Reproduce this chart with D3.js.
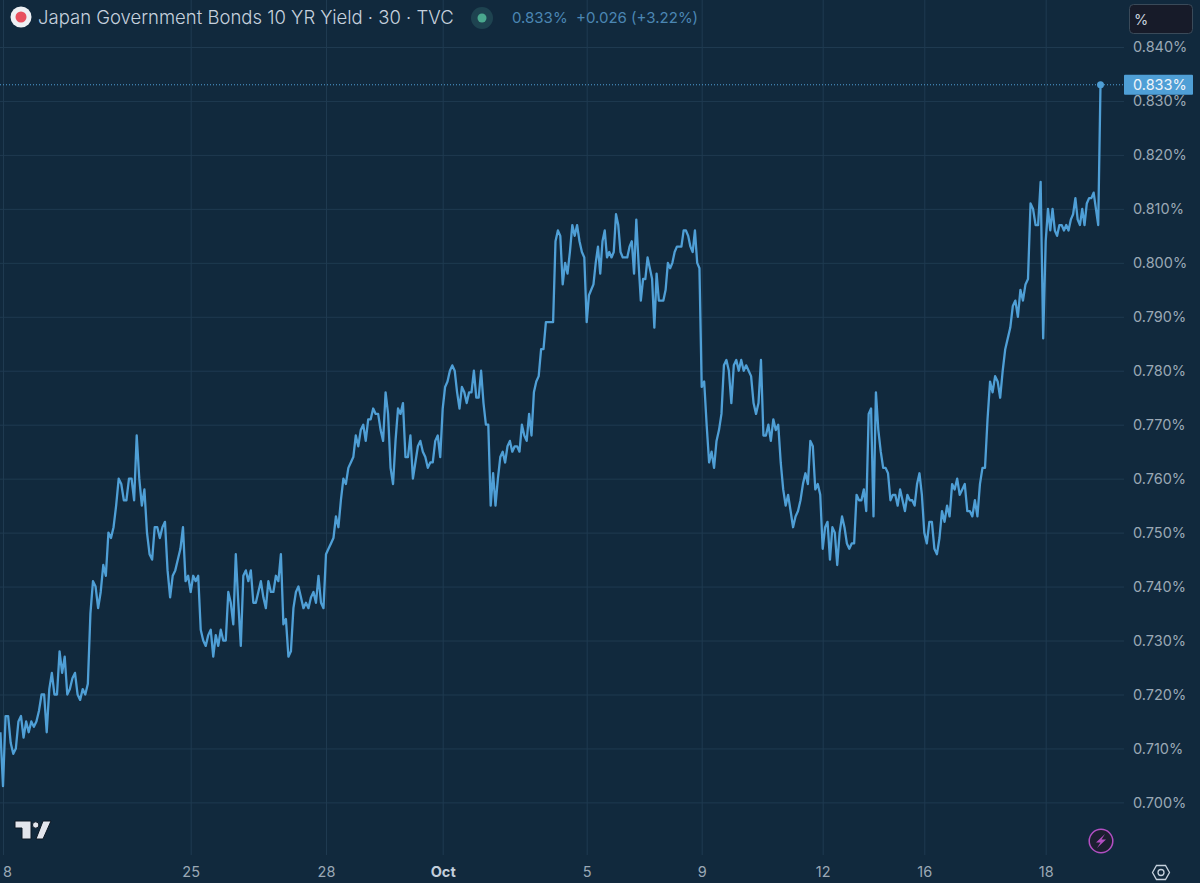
<!DOCTYPE html>
<head>
  <meta charset="utf-8">
  <title>Japan Government Bonds 10 YR Yield</title>
  <script src="https://d3js.org/d3.v7.min.js"></script>
  <style>
    body { margin: 0; background-color: #11293d; overflow: hidden; }
    svg { display: block; font-family: Inter, "Noto Sans", sans-serif; }

    .grid line { stroke: #1f3a50; stroke-width: 1; }
    .grid path { display: none; }
    .axis path, .axis line { display: none; }
    .axis text { fill: #9aa8b5; font-size: 14.5px; font-family: Inter, sans-serif; }
    .legend-title { fill: #c6d1dd; font-size: 18.5px; font-weight: 300; }
    .legend-values { fill: #4b86b3; font-size: 15px; }
  </style>
</head>

<body>
  <script>
    var width = 1200, height = 883;

    // 30 minute closes, in thousandths of a percent, one list per gap between date labels
    var sep18 = [713,703,716,716,711,709,710,715,716,712,715,713,715,714,715,717,720,720,713,721,724,720,720,728,724,727,720,721,723,724,720,719,721,720,722,735,741,740,736,739,744,742,750,749,751,755,760,759,756,756,760,760,756,768,760,755,758,750,746,745,751,751,749,751,752,743,738,742,743,745,747,751,741,742];
    var sep25 = [739,742,741,742,732,730,729,731,732,727,731,729,732,730,730,739,737,733,746,737,729,742,743,741,743,737,737,739,741,738,736,741,739,739,742,741,746,733,734,727,728,736,739,740,738,736,737,736,738,739,737,742,737,736];
    var sep28 = [746,747,748,749,753,751,756,760,759,762,763,764,768,766,769,770,767,771,771,773,772,772,769,767,776,772,762,759,767,773,772,774,764,764,768,760,763,766,767,765,764,762,763,763,767,768,764];
    var oct1 = [773,777,778,780,781,780,776,773,777,776,774,776,776,780,775,775,780,774,770,770,755,761,755,760,764,765,763,766,767,765,766,766,765,770,768,767,772,768,776,778,779,784,784,789,789,789,789,804,806,805,796,800,798,802,807,805,807,804,802,801];
    var oct5 = [789,794,795,796,800,803,798,804,806,801,802,801,802,809,807,802,801,801,801,803,804,798,808,800,793,797,797,801,799,797,788,798,793,793,793,795,800,799,800,802,803,803,803,806,806,805,803,802,806,800,799];
    var oct9 = [777,778,770,763,765,762,767,769,772,781,782,780,774,781,782,780,782,780,781,780,779,774,772,774,782,768,768,770,767,771,769,770,763,758,755,757,754,751,753,754,756,759,761,759,767,766,758,759,757];
    var oct12 = [747,751,752,745,751,750,744,750,753,751,748,747,748,748,757,756,756,758,754,772,773,753,776,769,765,762,762,761,756,757,757,755,758,756,754,757,756,756,755,759,761,757];
    var oct16 = [750,748,752,752,747,746,749,754,752,755,753,759,758,760,757,758,759,754,754,753,756,753,759,762,762,771,778,776,779,778,775,780,784,786,788,792,793,790,795,793,796,797,811,810,807,807,815,786];
    var oct18 = [804,810,806,810,806,805,807,807,806,807,806,808,809,812,808,807,810,807,811,812,812,813,810,807,833];

    var dateLabels = ["8", "25", "28", "Oct", "5", "9", "12", "16", "18"];
    var yieldTicks = [0.70, 0.71, 0.72, 0.73, 0.74, 0.75, 0.76, 0.77, 0.78, 0.79, 0.80, 0.81, 0.82, 0.83, 0.84];
    var lastYield = 0.833;

    var segments = [sep18, sep25, sep28, oct1, oct5, oct9, oct12, oct16, oct18];
    var yields = d3.merge(segments).map(d => d / 1000);

    // bar index of each date label; the 18 sits one bar in from the left edge
    var tickBars = [1];
    var running = sep18.length;
    segments.slice(1).forEach(s => { tickBars.push(running); running += s.length; });

    var chartRight = 1124;
    var gridX = [3, 190.7, 326, 442.7, 586.7, 701.7, 822.7, 924.3, 1045.7];

    // trading sessions are not evenly spread, so the scale is piecewise between date labels
    var x = d3.scaleLinear()
      .domain(tickBars.concat([yields.length - 1]))
      .range(gridX.concat([1100.5]));

    var y = d3.scaleLinear()
      .domain([0.70, 0.84])
      .range([802.4, 47]);

    var svg = d3.select("body").append("svg")
      .attr("width", width)
      .attr("height", height);

    svg.append("rect")
      .attr("width", width)
      .attr("height", height)
      .attr("fill", "#11293d");

    // Grid
    svg.append("g")
      .attr("class", "grid")
      .attr("transform", "translate(" + chartRight + ",0)")
      .call(d3.axisLeft(y).tickValues(yieldTicks).tickSize(chartRight).tickFormat(""));

    svg.append("g")
      .attr("class", "grid")
      .attr("transform", "translate(0,855)")
      .call(d3.axisTop(x).tickValues(tickBars).tickSize(855).tickFormat(""));

    // Axes
    var yAxis = svg.append("g")
      .attr("class", "axis")
      .attr("transform", "translate(" + chartRight + ",0)")
      .call(d3.axisRight(y).tickValues(yieldTicks).tickSize(0).tickPadding(9).tickFormat(d3.format(".3f")));
    yAxis.selectAll("text").text(d => d3.format(".3f")(d) + "%");

    var xAxis = svg.append("g")
      .attr("class", "axis")
      .attr("transform", "translate(0,864)")
      .call(d3.axisBottom(x).tickValues(tickBars).tickSize(0).tickPadding(3).tickFormat((d, i) => dateLabels[i]));
    xAxis.selectAll("text")
      .filter(d => d === tickBars[3])
      .style("font-weight", 700)
      .style("fill", "#c3cedb");
    xAxis.selectAll("text")
      .filter(d => d === tickBars[0])
      .attr("x", 4);

    // Last value line
    svg.append("line")
      .attr("x1", 0)
      .attr("x2", chartRight)
      .attr("y1", y(lastYield))
      .attr("y2", y(lastYield))
      .attr("stroke", "#4f9fd6")
      .attr("stroke-width", 1)
      .attr("stroke-dasharray", "1,2");

    var line = d3.line()
      .x((d, i) => x(i))
      .y(d => y(d));

    svg.append("path")
      .datum(yields)
      .attr("fill", "none")
      .attr("stroke", "#4f9fd6")
      .attr("stroke-width", 2.3)
      .attr("stroke-linejoin", "round")
      .attr("d", line);

    svg.append("circle")
      .attr("cx", x(yields.length - 1))
      .attr("cy", y(lastYield))
      .attr("r", 3.5)
      .attr("fill", "#4f9fd6");

    // Last value label
    svg.append("rect")
      .attr("x", chartRight)
      .attr("y", y(lastYield) - 10)
      .attr("width", 69)
      .attr("height", 20)
      .attr("rx", 1)
      .attr("fill", "#4f9fd6");
    svg.append("text")
      .attr("x", chartRight + 9)
      .attr("y", y(lastYield))
      .attr("dy", "0.35em")
      .style("font-size", "14.5px")
      .attr("fill", "#f0f5fa")
      .text(d3.format(".3f")(lastYield) + "%");

    // Legend
    svg.append("circle").attr("cx", 21).attr("cy", 17).attr("r", 10.5).attr("fill", "#eef0f4");
    svg.append("circle").attr("cx", 21).attr("cy", 17).attr("r", 5.5).attr("fill", "#e8505f");
    svg.append("text")
      .attr("class", "legend-title")
      .attr("x", 38)
      .attr("y", 24)
      .text("Japan Government Bonds 10 YR Yield · 30 · TVC");
    svg.append("circle").attr("cx", 482).attr("cy", 18).attr("r", 11).attr("fill", "#1e4350");
    svg.append("circle").attr("cx", 482).attr("cy", 18).attr("r", 4.5).attr("fill", "#4aa88e");
    svg.append("text")
      .attr("class", "legend-values")
      .attr("x", 512)
      .attr("y", 23)
      .attr("xml:space", "preserve")
      .text("0.833%  +0.026 (+3.22%)");

    // Unit box
    svg.append("rect")
      .attr("x", 1129.5)
      .attr("y", 4.5)
      .attr("width", 63)
      .attr("height", 29)
      .attr("rx", 4)
      .attr("fill", "#171b29")
      .attr("stroke", "#3a4a59");
    svg.append("text")
      .attr("x", 1134)
      .attr("y", 25)
      .style("font-size", "14.5px")
      .attr("fill", "#c6d1dd")
      .text("%");

    // TradingView mark
    var logo = svg.append("g")
      .attr("fill", "#e3e5ec")
      .attr("stroke", "#0c1622")
      .attr("stroke-width", 1);
    logo.append("path").attr("d", "M15 821H31V839H22V828H15Z");
    logo.append("circle").attr("cx", 35.7).attr("cy", 825).attr("r", 3.2);
    logo.append("path").attr("d", "M43 821H51L43 839H36Z");

    // Lightning icon
    svg.append("circle")
      .attr("cx", 1101)
      .attr("cy", 841)
      .attr("r", 11.8)
      .attr("fill", "#1b1f30")
      .attr("stroke", "#b24fc2")
      .attr("stroke-width", 1.5);
    svg.append("path")
      .attr("d", "M1105 834L1096 842.5H1100.5L1097 848L1106 839.5H1101.5Z")
      .attr("fill", "#b24fc2");

    // Settings icon
    svg.append("path")
      .attr("d", "M1152.5 872.5L1156.5 865.5H1165.5L1169.5 872.5L1165.5 879.5H1156.5Z")
      .attr("fill", "none")
      .attr("stroke", "#c6d1dd")
      .attr("stroke-width", 1.3);
    svg.append("circle")
      .attr("cx", 1161)
      .attr("cy", 872.5)
      .attr("r", 3)
      .attr("fill", "none")
      .attr("stroke", "#c6d1dd")
      .attr("stroke-width", 1.3);
  </script>
</body>
